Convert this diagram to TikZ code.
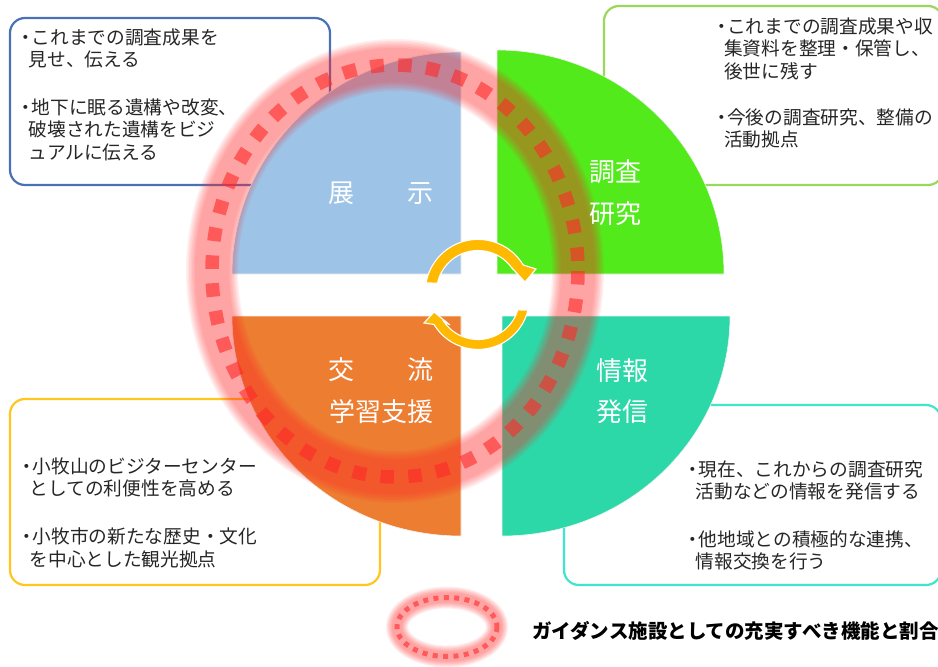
\documentclass[tikz,border=0pt]{standalone}
\usepackage{fontspec}
\setmainfont{Noto Sans CJK JP}
\newcommand{\bul}{\makebox[8pt][l]{\hspace{-7pt}・}}
\newcommand{\ind}{\hspace*{5pt}}
\tikzset{
  box/.style={rounded corners=15pt,line width=2.2pt,fill=white},
  desc/.style={anchor=north west,inner sep=0pt,align=left,text=black!85,font=\fontsize{18.7}{22.5}\selectfont},
  lab/.style={text=white,inner sep=0pt,anchor=center,font=\fontsize{26}{26}\selectfont},
  quad/.style={draw=white!90!gray,line width=.6pt},
  gold/.style={fill=goldc,draw=white,line width=1.1pt},
  glow/.style={glowc,opacity=.075},
}
\definecolor{bluebox}{HTML}{4A70B8}
\definecolor{greenbox}{HTML}{9AD85C}
\definecolor{yellowbox}{HTML}{FFC61E}
\definecolor{tealbox}{HTML}{3FE6CB}
\definecolor{q1}{HTML}{9DC3E6}
\definecolor{q2}{HTML}{52EA1A}
\definecolor{q3}{HTML}{ED7D31}
\definecolor{q4}{HTML}{2CD8A8}
\definecolor{goldc}{HTML}{FFB900}
\definecolor{glowc}{HTML}{FF2C2C}
\definecolor{dotc}{HTML}{FF2A2A}
\begin{document}
\begin{tikzpicture}[x=1pt,y=1pt,yscale=-1]
\useasboundingbox (0,0) rectangle (938,667);
\fill[white] (0,0) rectangle (938,667);
% boxes
\draw[box,draw=bluebox] (10,18) rectangle (330,185);
\draw[box,draw=greenbox] (604,6) rectangle (943,185);
\draw[box,draw=yellowbox] (10,399) rectangle (380,585);
\draw[box,draw=tealbox] (564,405) rectangle (941,585);
% quadrants
\path[quad,fill=q1] (461,274) -- (232,274) arc[start angle=180,end angle=270,x radius=229,y radius=222] -- cycle;
\path[quad,fill=q2] (497,274) -- (724,274) arc[start angle=0,end angle=-90,x radius=227,y radius=224] -- cycle;
\path[quad,fill=q3] (461,316) -- (232,316) arc[start angle=180,end angle=90,x radius=229,y radius=220] -- cycle;
\path[quad,fill=q4] (502,316) -- (730,316) arc[start angle=0,end angle=90,x radius=228,y radius=220] -- cycle;
% circulating arrows
\path[gold] (426,283) arc[start angle=190,end angle=329,radius=52.8]
  -- (536,269) -- (525,282) -- (512,268) -- ([shift={(478,292)}]325:41.5)
  arc[start angle=325,end angle=192.4,radius=41.5] -- cycle;
\path[gold] (528,310) arc[start angle=13.5,end angle=149,radius=51.4]
  -- (424,323) -- (434,312) -- (450,325) -- ([shift={(478,298)}]145:41.5)
  arc[start angle=145,end angle=16.7,radius=41.5] -- cycle;
% ring glow
\foreach \w in {52,49,46,43,40,37,34}
  \draw[glow,line width=\w pt] (395,271) ellipse[x radius=183,y radius=206];
\draw[dotc,opacity=.6,line width=13.5pt,dash pattern=on 13.5pt off 14.4pt] (395,271) ellipse[x radius=183,y radius=206];
% legend ring
\foreach \w in {22,20,18,16,14,12,10}
  \draw[glow,line width=\w pt] (447,627) ellipse[x radius=50,y radius=29.5];
\draw[dotc,opacity=.6,line width=5pt,dash pattern=on 5pt off 5.4pt] (447,627) ellipse[x radius=50,y radius=29.5];
% labels
\node[lab] (lblue) at (381,193) {展\hspace{2.05em}示};
\node[lab] (lgreena) at (615,172) {調査};
\node[lab] (lgreenb) at (615,214) {研究};
\node[lab] (loranga) at (381,370) {交\hspace{2.05em}流};
\node[lab] (lorangeb) at (381,412) {学習支援};
\node[lab] (lteala) at (622,371) {情報};
\node[lab] (ltealb) at (622,412) {発信};
% descriptions
\node[desc] (da) at (23.5,28.5) {\bul これまでの調査成果を\\\ind 見せ、伝える};
\node[desc] (db) at (23.5,98.5) {\bul 地下に眠る遺構や改変、\\\ind 破壊された遺構をビジ\\\ind ュアルに伝える};
\node[desc] (dc) at (719,17.5) {\bul これまでの調査成果や収\\\ind 集資料を整理・保管し、\\\ind 後世に残す};
\node[desc] (dd) at (719,108.5) {\bul 今後の調査研究、整備の\\\ind 活動拠点};
\node[desc] (de) at (24.5,457.5) {\bul 小牧山のビジターセンター\\\ind としての利便性を高める};
\node[desc] (df) at (24.5,527.5) {\bul 小牧市の新たな歴史・文化\\\ind を中心とした観光拠点};
\node[desc] (dg) at (690.5,460.5) {\bul 現在、これからの調査研究\\\ind 活動などの情報を発信する};
\node[desc] (dh) at (690.5,530.5) {\bul 他地域との積極的な連携、\\\ind 情報交換を行う};
\node[anchor=west,inner sep=0pt,font=\bfseries\fontsize{19.5}{22}\selectfont] (cap) at (532,631) {ガイダンス施設としての充実すべき機能と割合};
\end{tikzpicture}
\end{document}
